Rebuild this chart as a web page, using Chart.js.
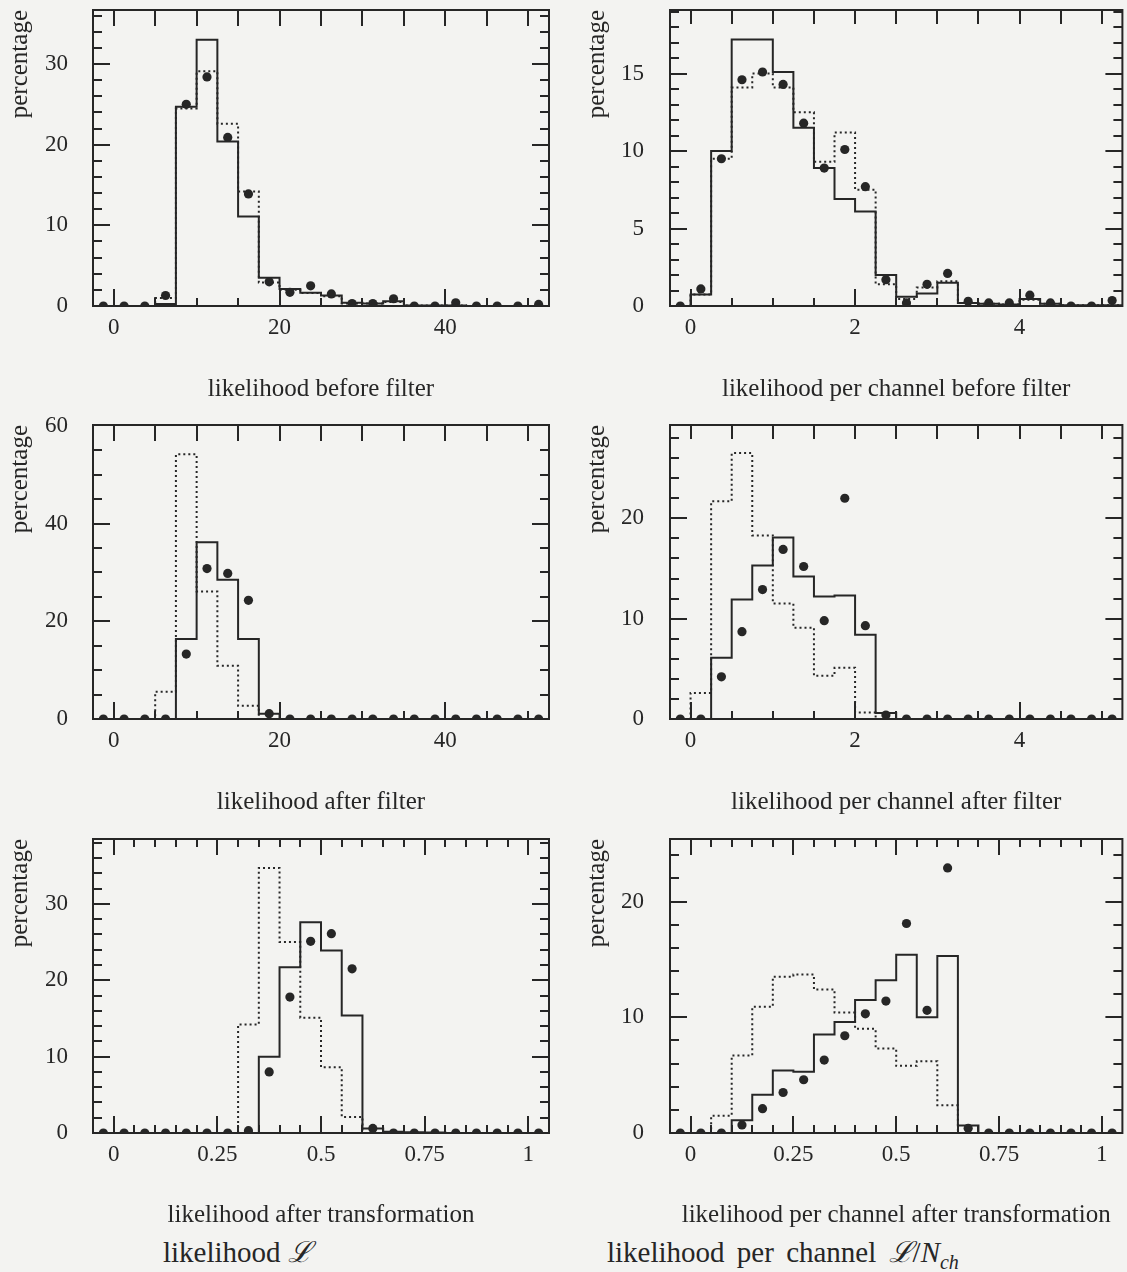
<!DOCTYPE html>
<html><head><meta charset="utf-8">
<script src="https://cdn.jsdelivr.net/npm/chart.js@4.4.1/dist/chart.umd.min.js"></script>
<style>
html,body{margin:0;padding:0;background:#f3f3f1;}
body{width:1127px;height:1272px;position:relative;overflow:hidden;font-family:'Liberation Serif','Times New Roman',serif;color:#262626;}
canvas{position:absolute;}
.sub{position:absolute;font-size:29px;line-height:34px;white-space:nowrap;}
.sub sub{font-size:20px;line-height:0;}
</style></head><body>
<canvas id="c1"></canvas><canvas id="c2"></canvas>
<canvas id="c3"></canvas><canvas id="c4"></canvas>
<canvas id="c5"></canvas><canvas id="c6"></canvas>
<div class="sub" style="left:163px;top:1235px">likelihood <i>ℒ</i></div>
<div class="sub" style="left:607px;top:1235px;word-spacing:5px">likelihood per channel <i>ℒ</i>/<i>N</i><sub><i>ch</i></sub></div>
<script>
// ---------- bin edges (histogram categories) ----------
const edgesLik = [-2.5,0,2.5,5,7.5,10,12.5,15,17.5,20,22.5,25,27.5,30,32.5,35,37.5,40,42.5,45,47.5,50,52.5];
const edgesLpc = [-0.25,0,0.25,0.5,0.75,1,1.25,1.5,1.75,2,2.25,2.5,2.75,3,3.25,3.5,3.75,4,4.25,4.5,4.75,5,5.25];
const edgesTr  = [-0.05,0,0.05,0.1,0.15,0.2,0.25,0.3,0.35,0.4,0.45,0.5,0.55,0.6,0.65,0.7,0.75,0.8,0.85,0.9,0.95,1,1.05];

// ---------- tick labels ----------
const xTicksLik = [0,20,40];
const xTicksLpc = [0,2,4];
const xTicksTr  = [0,0.25,0.5,0.75,1];
const yTicks1 = [0,10,20,30];
const yTicks2 = [0,5,10,15];
const yTicks3 = [0,20,40,60];
const yTicks4 = [0,10,20];
const yTicks5 = [0,10,20,30];
const yTicks6 = [0,10,20];

// ---------- panel 1: likelihood before filter ----------
const solid1  = [0,0,0,0.25,24.7,33.0,20.4,11.1,3.5,2.1,1.65,1.3,0.4,0.3,0.6,0.05,0.05,0.05,0,0,0,0];
const dotted1 = [0,0,0,1.0,24.5,29.1,22.6,14.2,2.9,2.0,1.6,1.2,0.3,0.3,0.5,0.05,0.05,0.05,0,0,0,0];
const dots1   = [0,0,0,1.3,25.0,28.4,20.9,13.9,3.0,1.7,2.5,1.5,0.3,0.3,0.9,0,0,0.4,0,0,0,0.2];

// ---------- panel 2: likelihood per channel before filter ----------
const solid2  = [0,0.75,10.0,17.2,17.2,15.1,11.5,8.9,6.9,6.1,2.0,0.6,0.8,1.5,0.2,0.15,0.1,0.45,0.15,0.05,0.05,0.05];
const dotted2 = [0,0.75,9.5,14.1,15.0,14.1,12.5,9.3,11.2,7.5,1.4,0.45,1.2,1.6,0.2,0.15,0.1,0.4,0.15,0.05,0.05,0.05];
const dots2   = [0,1.1,9.5,14.6,15.1,14.3,11.8,8.9,10.1,7.7,1.7,0.2,1.4,2.1,0.3,0.2,0.2,0.7,0.2,0,0,0.35];

// ---------- panel 3: likelihood after filter ----------
const solid3  = [0,0,0,0,16.4,36.2,28.5,16.4,1.1,0,0,0,0,0,0,0,0,0,0,0,0,0];
const dotted3 = [0,0,0,5.6,54.2,26.1,10.9,2.7,0,0,0,0,0,0,0,0,0,0,0,0,0,0];
const dots3   = [0,0,0,0,13.3,30.8,29.8,24.3,1.1,0,0,0,0,0,0,0,0,0,0,0,0,0];

// ---------- panel 4: likelihood per channel after filter ----------
const solid4  = [0,0,6.1,11.9,15.3,18.1,14.2,12.2,12.3,8.4,0.6,0,0,0,0,0,0,0,0,0,0,0];
const dotted4 = [0,2.6,21.7,26.5,18.3,11.5,9.1,4.3,5.1,0.66,0,0,0,0,0,0,0,0,0,0,0,0];
const dots4   = [0,0,4.2,8.7,12.9,16.9,15.2,9.8,22.0,9.3,0.4,0,0,0,0,0,0,0,0,0,0,0];

// ---------- panel 5: likelihood after transformation ----------
const solid5  = [0,0,0,0,0,0,0,0,10.0,21.7,27.6,23.9,15.4,0.6,0.15,0.1,0.05,0,0,0,0,0];
const dotted5 = [0,0,0,0,0,0,0,14.2,34.7,25.0,15.1,8.6,2.1,0,0,0,0,0,0,0,0,0];
const dots5   = [0,0,0,0,0,0,0,0.3,8.0,17.8,25.1,26.1,21.5,0.6,0,0,0,0,0,0,0,0];

// ---------- panel 6: likelihood per channel after transformation ----------
const solid6  = [0,0,0,1.1,3.3,5.4,5.3,8.5,9.6,11.5,13.2,15.4,10.0,15.3,0.65,0,0,0,0,0,0,0];
const dotted6 = [0,0,1.5,6.7,10.9,13.5,13.7,12.4,10.4,9.0,7.3,5.8,6.2,2.4,0,0,0,0,0,0,0,0];
const dots6   = [0,0,0,0.7,2.1,3.5,4.6,6.3,8.4,10.3,11.4,18.1,10.6,22.9,0.4,0,0,0,0,0,0,0];

// ---------- rendering ----------
const INK = '#262626';
const FONT = "'Liberation Serif','Times New Roman',serif";

function stepPoints(edges, vals){
  return edges.map((e,i)=>({x:e, y:vals[Math.min(i, vals.length-1)]}));
}
function centerPoints(edges, vals){
  return vals.map((v,i)=>({x:(edges[i]+edges[i+1])/2, y:v}));
}

const frameTicks = {
  id:'frameTicks',
  afterDatasetsDraw(chart, args, o){
    const {ctx, chartArea:a, scales:{x,y}} = chart;
    ctx.save();
    ctx.strokeStyle = INK; ctx.lineWidth = 2; ctx.lineCap = 'butt';
    const seg=(x1,y1,x2,y2)=>{ctx.beginPath();ctx.moveTo(x1,y1);ctx.lineTo(x2,y2);ctx.stroke();};
    const isIn=(v,list)=>list.some(m=>Math.abs(m-v)<1e-7);
    const k0x=Math.ceil(x.min/o.xStep-1e-6), k1x=Math.floor(x.max/o.xStep+1e-6);
    for(let k=k0x;k<=k1x;k++){
      const v=+(k*o.xStep).toFixed(6); const px=Math.round(x.getPixelForValue(v));
      if(px<=a.left+1||px>=a.right-1) continue;
      const maj=isIn(v,o.xMajor);
      seg(px,a.bottom,px,a.bottom-(maj?o.bMaj:o.bMin));
      seg(px,a.top,px,a.top+(maj?o.tMaj:o.tMin));
    }
    const k1y=Math.floor(y.max/o.yStep+1e-6);
    for(let k=0;k<=k1y;k++){
      const v=+(k*o.yStep).toFixed(6); const py=Math.round(y.getPixelForValue(v));
      if(py<=a.top+1||py>=a.bottom-1) continue;
      const maj=isIn(v,o.yMajor);
      const L=maj?o.sMaj:o.sMin;
      seg(a.left,py,a.left+L,py);
      seg(a.right,py,a.right-L,py);
    }
    ctx.strokeRect(a.left,a.top,a.right-a.left,a.bottom-a.top);
    ctx.restore();
  }
};

const cols = {
  L:{left:0, width:560, yw:93, pr:11, tpad:5, ylpad:25},
  R:{left:565, width:562, yw:105, pr:1, tpad:17, ylpad:26}
};
const rows = [
  {top:0, height:405, pt:10, xh:99, tb:1},
  {top:405, height:415, pt:20, xh:101, tb:3},
  {top:820, height:412, pt:19, xh:99, tb:2}
];

const panels = [
  {id:'c1', col:'L', row:0, edges:edgesLik, solid:solid1, dotted:dotted1, dots:dots1, xMin:-2.5, xMax:52.5, yMax:36.7, xt:xTicksLik, yt:yTicks1, xStep:5, yStep:2, title:'likelihood before filter', tMaj:16, tMin:16},
  {id:'c2', col:'R', row:0, edges:edgesLpc, solid:solid2, dotted:dotted2, dots:dots2, xMin:-0.25, xMax:5.25, yMax:19.1, xt:xTicksLpc, yt:yTicks2, xStep:0.5, yStep:1, title:'likelihood per channel before filter', tMaj:14, tMin:14},
  {id:'c3', col:'L', row:1, edges:edgesLik, solid:solid3, dotted:dotted3, dots:dots3, xMin:-2.5, xMax:52.5, yMax:60.2, xt:xTicksLik, yt:yTicks3, xStep:5, yStep:5, title:'likelihood after filter', tMaj:16, tMin:16},
  {id:'c4', col:'R', row:1, edges:edgesLpc, solid:solid4, dotted:dotted4, dots:dots4, xMin:-0.25, xMax:5.25, yMax:29.3, xt:xTicksLpc, yt:yTicks4, xStep:0.5, yStep:2, title:'likelihood per channel after filter', tMaj:14, tMin:14},
  {id:'c5', col:'L', row:2, edges:edgesTr, solid:solid5, dotted:dotted5, dots:dots5, xMin:-0.05, xMax:1.05, yMax:38.5, xt:xTicksTr, yt:yTicks5, xStep:0.05, yStep:2, title:'likelihood after transformation', tMaj:16, tMin:8},
  {id:'c6', col:'R', row:2, edges:edgesTr, solid:solid6, dotted:dotted6, dots:dots6, xMin:-0.05, xMax:1.05, yMax:25.4, xt:xTicksTr, yt:yTicks6, xStep:0.05, yStep:2, title:'likelihood per channel after transformation', tMaj:16, tMin:8}
];

panels.forEach(p=>{
  const c = cols[p.col], r = rows[p.row];
  const cv = document.getElementById(p.id);
  cv.width = c.width; cv.height = r.height;
  cv.style.left = c.left+'px'; cv.style.top = r.top+'px';
  cv.style.width = c.width+'px'; cv.style.height = r.height+'px';
  new Chart(cv, {
    type:'scatter',
    data:{datasets:[
      {type:'line', data:stepPoints(p.edges,p.solid), stepped:'before', borderColor:INK, borderWidth:2, pointRadius:0, fill:false, tension:0, clip:3},
      {type:'line', data:stepPoints(p.edges,p.dotted), stepped:'before', borderColor:INK, borderWidth:2, borderDash:[2,3], pointRadius:0, fill:false, tension:0, clip:3},
      {type:'scatter', data:centerPoints(p.edges,p.dots), pointRadius:4.6, pointBackgroundColor:INK, pointBorderWidth:0, clip:0}
    ]},
    options:{
      responsive:false, animation:false, events:[], devicePixelRatio:1,
      layout:{padding:{top:r.pt, right:c.pr, left:0, bottom:0}},
      plugins:{legend:{display:false}, tooltip:{enabled:false},
        frameTicks:{xStep:p.xStep, yStep:p.yStep, xMajor:p.xt, yMajor:p.yt, bMaj:17, bMin:8, tMaj:p.tMaj, tMin:p.tMin, sMaj:17, sMin:9}},
      scales:{
        x:{type:'linear', min:p.xMin, max:p.xMax,
           grid:{display:false, drawTicks:false}, border:{display:false},
           ticks:{font:{family:FONT,size:23}, color:INK, padding:8, maxRotation:0, autoSkip:false, callback:v=>String(v)},
           afterBuildTicks:s=>{s.ticks=p.xt.map(v=>({value:v}));},
           afterFit:s=>{s.height=r.xh; s.paddingLeft=0; s.paddingRight=0;},
           title:{display:true, text:p.title, font:{family:FONT,size:25}, color:INK, padding:{top:0,bottom:r.tb}}},
        y:{type:'linear', min:0, max:p.yMax,
           grid:{display:false, drawTicks:false}, border:{display:false},
           ticks:{font:{family:FONT,size:23}, color:INK, padding:c.ylpad, autoSkip:false, callback:v=>String(v)},
           afterBuildTicks:s=>{s.ticks=p.yt.map(v=>({value:v}));},
           afterFit:s=>{s.width=c.yw; s.paddingTop=0; s.paddingBottom=0;},
           title:{display:true, text:'percentage', align:'end', font:{family:FONT,size:25}, color:INK, padding:{top:c.tpad,bottom:0}}}
      }
    },
    plugins:[frameTicks]
  });
});
</script>
</body></html>
